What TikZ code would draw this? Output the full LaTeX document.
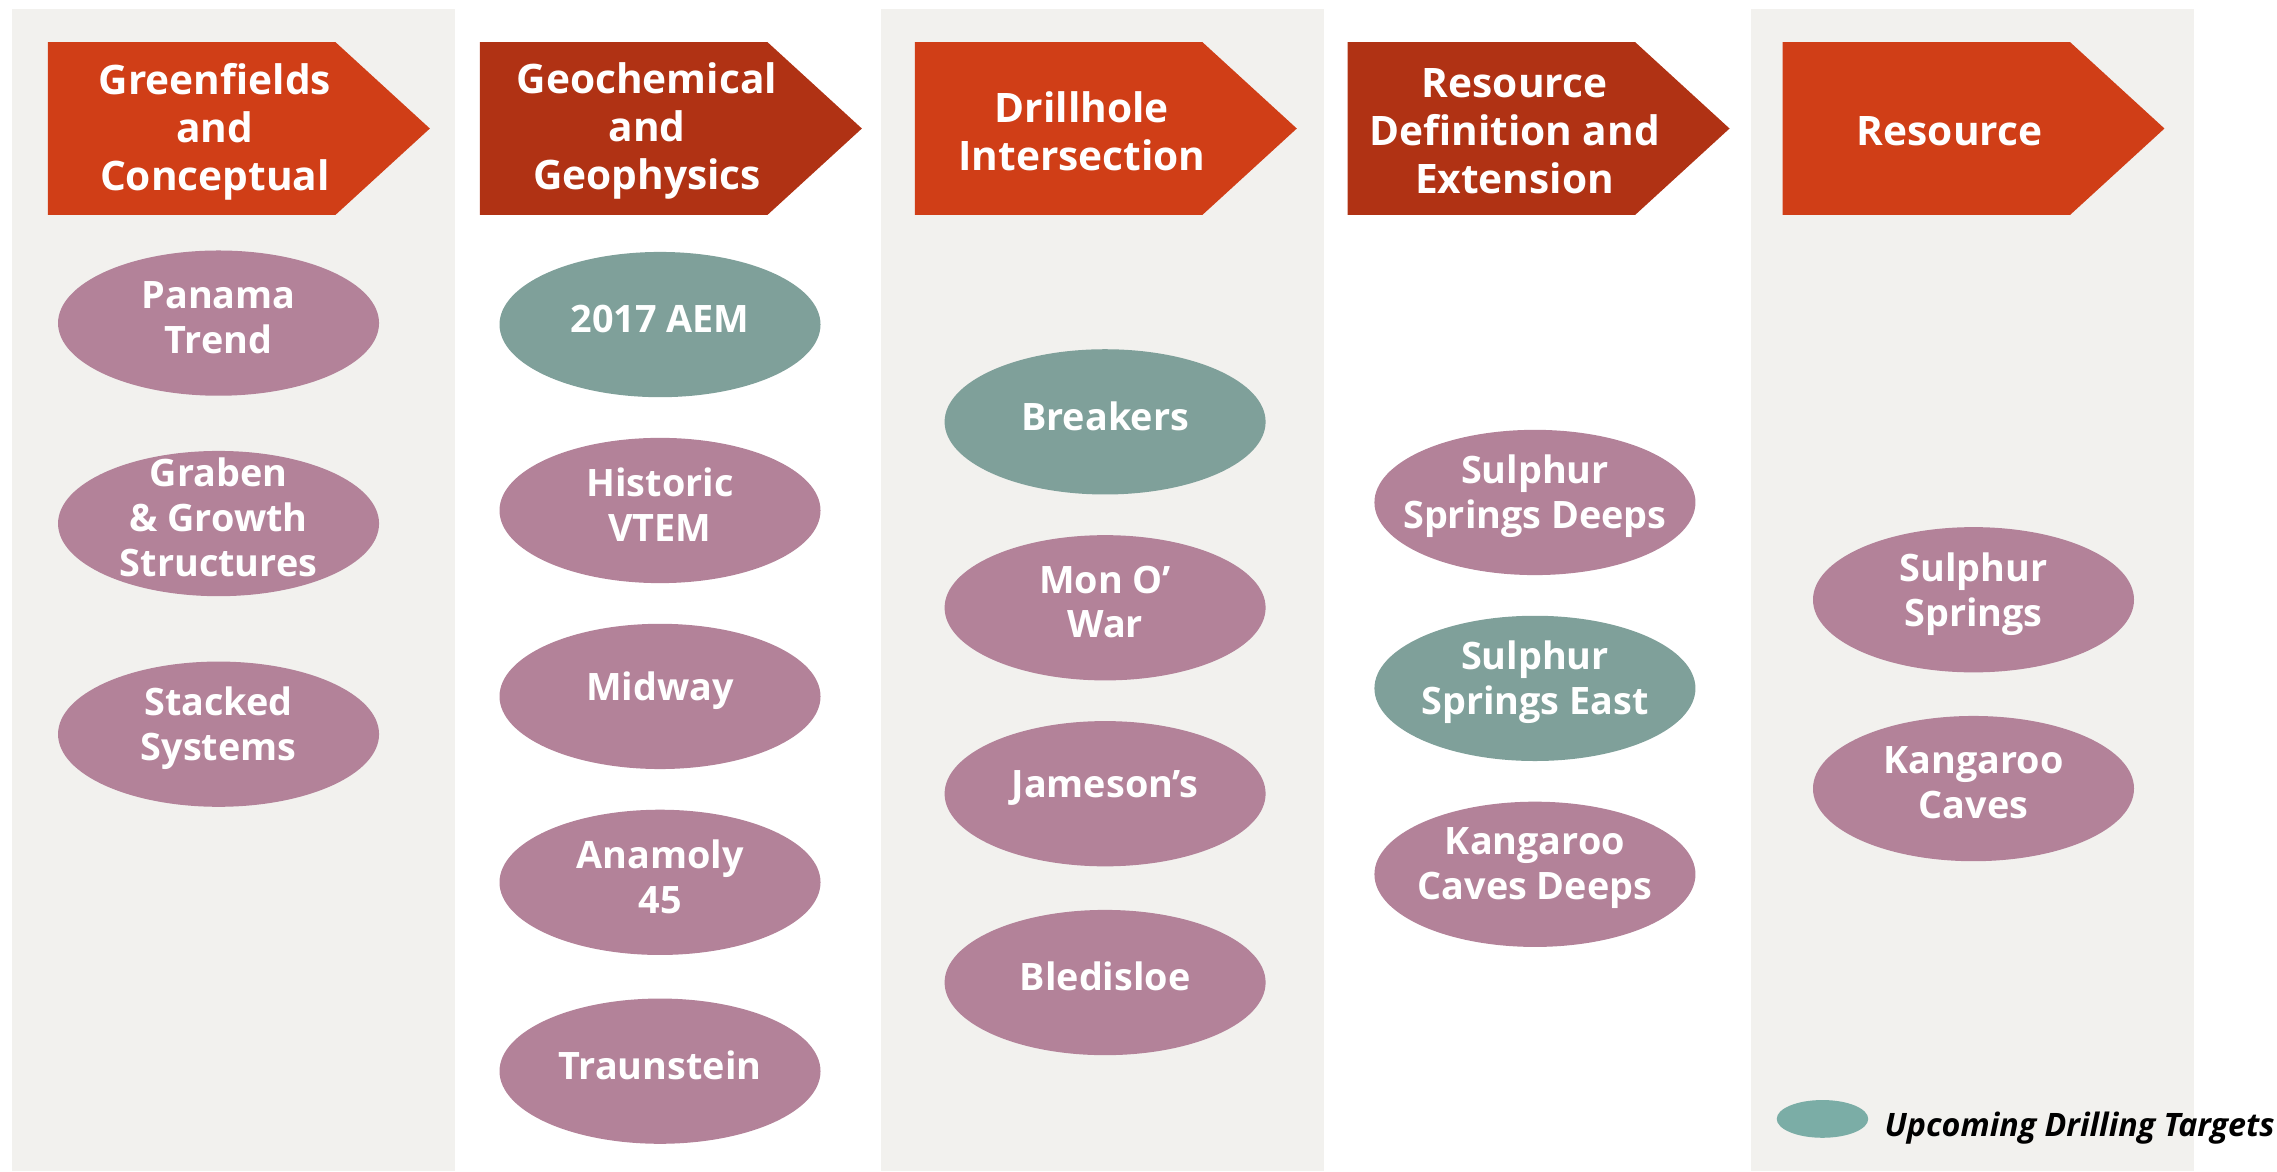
\documentclass[tikz,border=0pt]{standalone}
\usepackage{fontspec}
\setmainfont{Open Sans}
\usepackage{tikz}
\usetikzlibrary{shapes}
\definecolor{chevlight}{RGB}{208,62,23}
\definecolor{chevdark}{RGB}{176,50,20}
\definecolor{pinkfill}{RGB}{179,130,153}
\definecolor{tealfill}{RGB}{127,160,154}
\definecolor{keyfill}{RGB}{123,173,166}
\definecolor{lanefill}{RGB}{242,241,238}
\tikzstyle{lane} = [fill=lanefill]
\tikzstyle{stage} = [align=center, text=white, yshift=-0.05cm, font=\fontsize{19.9}{23.5}\selectfont\bfseries]
\tikzstyle{prospect} = [ellipse, fill=pinkfill, minimum width=5.525cm, minimum height=2.5cm, inner sep=0pt]
\tikzstyle{drilltarget} = [prospect, fill=tealfill]
\tikzstyle{lbl} = [align=center, text=white, yshift=0.1cm, font=\fontsize{18.5}{22}\selectfont\bfseries]
\tikzstyle{keytext} = [font=\fontsize{15.8}{19}\selectfont\bfseries\itshape]
\newcommand{\stagearrow}[2]{\fill[#2] (#1,29) -- ++(198,0) -- ++(65,59.5) -- ++(-65,59.5) -- ++(-198,0) -- cycle;}

\begin{document}
\begin{tikzpicture}[x=0.025cm, y=-0.025cm]
\useasboundingbox (0,0) rectangle (1568,806.4);
% Lanes
	\fill[lane] (8,6) rectangle (313,806.4);
	\fill[lane] (607,6) rectangle (912,806.4);
	\fill[lane] (1206,6) rectangle (1511,806.4);
% Stage arrows
	\stagearrow{33}{chevlight}
	\stagearrow{330.5}{chevdark}
	\stagearrow{630}{chevlight}
	\stagearrow{928}{chevdark}
	\stagearrow{1227.5}{chevlight}
	\node [stage] (S1) at (148,88.5) {Greenfields\\and\\Conceptual};
	\node [stage] (S2) at (445.5,88.5) {Geochemical\\and\\Geophysics};
	\node [stage] (S3) at (745,88.5) {Drillhole\\Intersection};
	\node [stage] (S4) at (1043,88.5) {Resource\\Definition and\\Extension};
	\node [stage] (S5) at (1342.5,88.5) {Resource};
% First column
	\node [prospect, label={[lbl]center:Panama\\Trend}] (A1) at (150.5,222.5) {};
	\node [prospect, below of=A1, node distance=3.45cm, label={[lbl]center:Graben\\\& Growth\\Structures}] (A2) {};
	\node [prospect, below of=A2, node distance=3.625cm, label={[lbl]center:Stacked\\Systems}] (A3) {};
% Second column
	\node [drilltarget, label={[lbl]center:2017 AEM}] (B1) at (454.5,223.5) {};
	\node [prospect, below of=B1, node distance=3.2cm, label={[lbl]center:Historic\\VTEM}] (B2) {};
	\node [prospect, below of=B2, node distance=3.2cm, label={[lbl]center:Midway}] (B3) {};
	\node [prospect, below of=B3, node distance=3.2cm, label={[lbl]center:Anamoly\\45}] (B4) {};
	\node [prospect, below of=B4, node distance=3.25cm, label={[lbl]center:Traunstein}] (B5) {};
% Third column
	\node [drilltarget, label={[lbl]center:Breakers}] (C1) at (761,290.5) {};
	\node [prospect, below of=C1, node distance=3.2cm, label={[lbl]center:Mon O’\\War}] (C2) {};
	\node [prospect, below of=C2, node distance=3.2cm, label={[lbl]center:Jameson’s}] (C3) {};
	\node [prospect, below of=C3, node distance=3.25cm, label={[lbl]center:Bledisloe}] (C4) {};
% Fourth column
	\node [prospect, label={[lbl]center:Sulphur\\Springs Deeps}] (D1) at (1057,346) {};
	\node [drilltarget, below of=D1, node distance=3.2cm, label={[lbl]center:Sulphur\\Springs East}] (D2) {};
	\node [prospect, below of=D2, node distance=3.2cm, label={[lbl]center:Kangaroo\\Caves Deeps}] (D3) {};
% Fifth column
	\node [prospect, label={[lbl]center:Sulphur\\Springs}] (E1) at (1359,413) {};
	\node [prospect, below of=E1, node distance=3.25cm, label={[lbl]center:Kangaroo\\Caves}] (E2) {};
% Key
	\node [ellipse, fill=keyfill, minimum width=1.575cm, minimum height=0.65cm, inner sep=0pt] (K1) at (1255,770.5) {};
	\node [keytext, anchor=base west, inner sep=0pt] (K2) at (1297.5,782.7) {Upcoming Drilling Targets};
\end{tikzpicture}
\end{document}
